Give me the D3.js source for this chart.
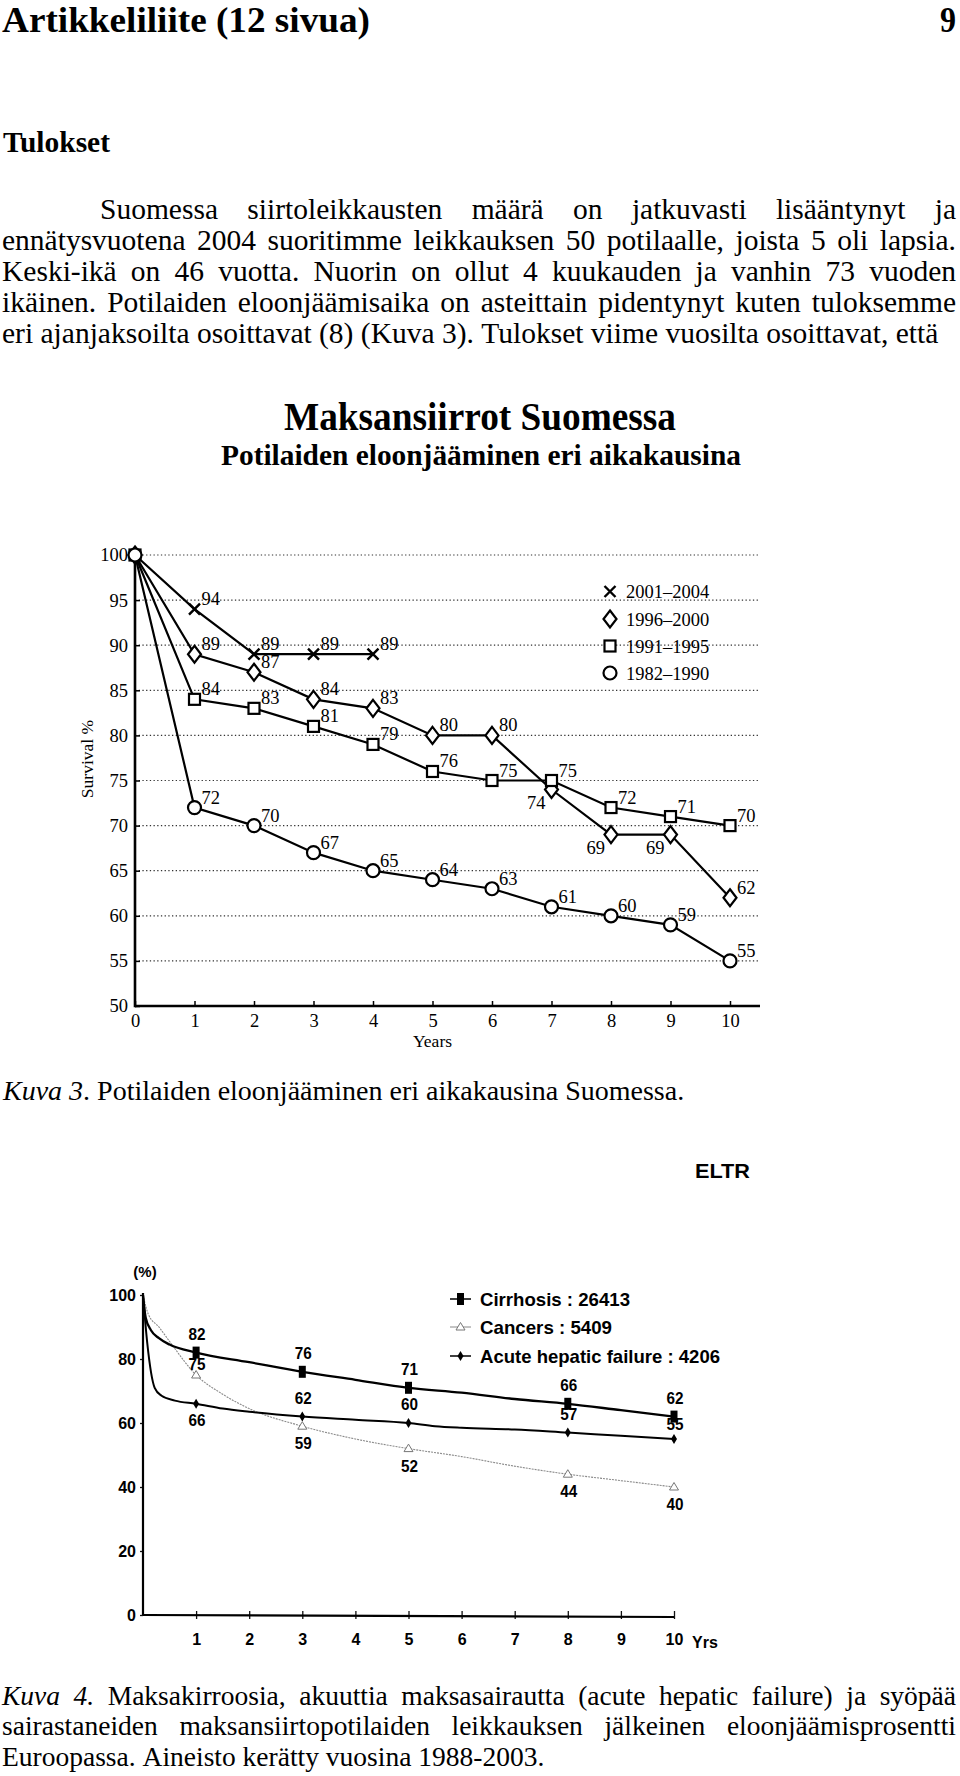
<!DOCTYPE html>
<html><head><meta charset="utf-8">
<script src="https://cdn.jsdelivr.net/npm/d3@7"></script>
<style>body{margin:0;background:#fff}svg{display:block}</style>
</head><body>
<svg id="page" width="960" height="1776"></svg>
<script>
// ---------- page text ----------
const pageHeading = "Artikkeliliite (12 sivua)";
const pageNumber = "9";
const sectionTitle = "Tulokset";
const paragraphLines = [
  "Suomessa siirtoleikkausten määrä on jatkuvasti lisääntynyt ja",
  "ennätysvuotena 2004 suoritimme leikkauksen 50 potilaalle, joista 5 oli lapsia.",
  "Keski-ikä on 46 vuotta. Nuorin on ollut 4 kuukauden ja vanhin 73 vuoden",
  "ikäinen. Potilaiden eloonjäämisaika on asteittain pidentynyt kuten tuloksemme",
  "eri ajanjaksoilta osoittavat (8) (Kuva 3). Tulokset viime vuosilta osoittavat, että"
];
const caption3Label = "Kuva 3";
const caption3Text = ". Potilaiden eloonjääminen eri aikakausina Suomessa.";
const caption4Lines = [
  "_Kuva _4. Maksakirroosia, akuuttia maksasairautta (acute hepatic failure) ja syöpää",
  "sairastaneiden maksansiirtopotilaiden leikkauksen jälkeinen eloonjäämisprosentti",
  "Euroopassa. Aineisto kerätty vuosina 1988-2003."
];

// ---------- chart 1 (Kuva 3) ----------
const chart1Title = "Maksansiirrot Suomessa";
const chart1Subtitle = "Potilaiden eloonjääminen eri aikakausina";
const periods = ["2001–2004", "1996–2000", "1991–1995", "1982–1990"];
const years1 = [0,1,2,3,4,5,6,7,8,9,10];
const surv2001 = [100,94,89,89,89];
const surv1996 = [100,89,87,84,83,80,80,74,69,69,62];
const surv1991 = [100,84,83,81,79,76,75,75,72,71,70];
const surv1982 = [100,72,70,67,65,64,63,61,60,59,55];
const yTicks1 = [50,55,60,65,70,75,80,85,90,95,100];
const xTicks1 = [0,1,2,3,4,5,6,7,8,9,10];
const yLabel1 = "Survival %";
const xLabel1 = "Years";

// ---------- chart 2 (Kuva 4, ELTR) ----------
const eltrTag = "ELTR";
const groups2 = ["Cirrhosis : 26413", "Cancers : 5409", "Acute hepatic failure : 4206"];
const markerYears2 = [1,3,5,8,10];
const cirrhosisValues = [82,76,71,66,62];
const cancersValues = [75,59,52,44,40];
const acuteValues = [66,62,60,57,55];
// curve readings (years, %)
const cirrhosisCurveT = [0,0.05,0.15,0.3,0.5,1,2,3,4,5,6,7,8,9,10];
const cirrhosisCurveV = [100,93,89,86.5,84.5,82,79,76,73.5,71,69.5,67.5,66,64,62];
const cancersCurveT = [0,0.1,0.3,0.5,1,1.5,2,3,4,5,6,7,8,9,10];
const cancersCurveV = [100,94,90,85.5,75,69,64.5,59,55,52,49.5,46.5,44,42,40];
const acuteCurveT = [0,0.08,0.22,0.35,0.6,1,1.5,2,3,4,5,5.5,6,7,8,9,10];
const acuteCurveV = [100,85,71,68.5,67,66,64.5,63.5,62,61,60,59,58.5,58,57,56,55];
const yTicks2 = [0,20,40,60,80,100];
const xTicks2 = [1,2,3,4,5,6,7,8,9,10];
const yUnit2 = "(%)";
const xUnit2 = "Yrs";

// =====================================================
const svg = d3.select("#page");
const SERIF = "'Liberation Serif','Times New Roman',Times,serif";
const SANS = "'Liberation Sans',Arial,Helvetica,sans-serif";

const meas = svg.append("text").attr("font-family", SERIF).attr("x", -1000).attr("y", -1000);
function measure(w, size, italic){
  meas.attr("font-size", size).attr("font-style", italic ? "italic" : "normal").text(w);
  return meas.node().getComputedTextLength();
}
function textLine(line, x0, x1, y, size, justify){
  const toks = line.split(" ").map(w => w.startsWith("_") ? {w:w.slice(1), it:true} : {w, it:false});
  const widths = toks.map(t => measure(t.w, size, t.it));
  const total = d3.sum(widths);
  const gap = justify ? (x1 - x0 - total) / (toks.length - 1) : size * 0.25;
  const t = svg.append("text").attr("y", y).attr("font-family", SERIF).attr("font-size", size).attr("fill", "#000");
  let x = x0;
  toks.forEach((tk, i) => {
    t.append("tspan").attr("x", x).attr("font-style", tk.it ? "italic" : null).text(tk.w);
    x += widths[i] + gap;
  });
}

// ---------- page text ----------
svg.append("text").attr("x", 2).attr("y", 32).attr("font-family", SERIF).attr("font-weight", "bold")
  .attr("font-size", 35).attr("textLength", 368).attr("lengthAdjust", "spacingAndGlyphs").text(pageHeading);
svg.append("text").attr("x", 956).attr("y", 32).attr("text-anchor", "end").attr("font-family", SERIF)
  .attr("font-weight", "bold").attr("font-size", 35).attr("textLength", 16).attr("lengthAdjust", "spacingAndGlyphs").text(pageNumber);
svg.append("text").attr("x", 3).attr("y", 152).attr("font-family", SERIF).attr("font-weight", "bold")
  .attr("font-size", 30).attr("textLength", 107).attr("lengthAdjust", "spacingAndGlyphs").text(sectionTitle);

const paraBase = [219, 250, 281, 312, 343];
paragraphLines.forEach((l, i) => textLine(l, i === 0 ? 100 : 2, 956, paraBase[i], 29.5, i < 4));

// ---------- chart 1 ----------
svg.append("text").attr("x", 480).attr("y", 430).attr("text-anchor", "middle").attr("font-family", SERIF)
  .attr("font-weight", "bold").attr("font-size", 40).attr("textLength", 392).attr("lengthAdjust", "spacingAndGlyphs").text(chart1Title);
svg.append("text").attr("x", 481).attr("y", 465).attr("text-anchor", "middle").attr("font-family", SERIF)
  .attr("font-weight", "bold").attr("font-size", 30).attr("textLength", 520).attr("lengthAdjust", "spacingAndGlyphs").text(chart1Subtitle);

const x1 = d3.scaleLinear().domain([0, 10]).range([135, 730]);
const y1 = d3.scaleLinear().domain([50, 100]).range([1006, 555]);
const g1 = svg.append("g");

// grid
g1.append("g").selectAll("line").data(yTicks1.filter(v => v > 50)).join("line")
  .attr("x1", x1(0)).attr("x2", 759).attr("y1", d => y1(d)).attr("y2", d => y1(d))
  .attr("stroke", "#333").attr("stroke-width", 1.2).attr("stroke-dasharray", "1.3,2.4");

// axes
const ax1 = g1.append("g").attr("transform", `translate(0,${y1(50)})`)
  .call(d3.axisBottom(x1).tickValues(xTicks1).tickSize(-5).tickPadding(8));
const ay1 = g1.append("g").attr("transform", `translate(${x1(0)},0)`)
  .call(d3.axisLeft(y1).tickValues(yTicks1).tickSize(-5).tickPadding(7));
[ax1, ay1].forEach(a => {
  a.select(".domain").remove();
  a.selectAll(".tick line").attr("stroke", "#000").attr("stroke-width", 1.5);
  a.selectAll(".tick text").attr("font-family", SERIF).attr("font-size", 18.5).attr("fill", "#000");
});
g1.append("line").attr("x1", x1(0)).attr("x2", 760).attr("y1", y1(50)).attr("y2", y1(50)).attr("stroke", "#000").attr("stroke-width", 2.6);
g1.append("line").attr("x1", x1(0)).attr("x2", x1(0)).attr("y1", y1(100)).attr("y2", y1(50) + 1.3).attr("stroke", "#000").attr("stroke-width", 2.6);

g1.append("text").attr("x", x1(5)).attr("y", 1047).attr("text-anchor", "middle").attr("font-family", SERIF).attr("font-size", 17.5).text(xLabel1);
g1.append("text").attr("transform", "translate(93,759) rotate(-90)").attr("text-anchor", "middle").attr("font-family", SERIF).attr("font-size", 17.5).text(yLabel1);

const seriesVals = [surv2001, surv1996, surv1991, surv1982];
const markerTypes = ["cross", "diamond", "square", "circle"];
function drawMarker(g, type, cx, cy){
  if (type === "cross") {
    const s = 5.5;
    g.append("path").attr("d", `M${cx-s},${cy-s}L${cx+s},${cy+s}M${cx-s},${cy+s}L${cx+s},${cy-s}`)
      .attr("stroke", "#000").attr("stroke-width", 2.4).attr("fill", "none");
  } else if (type === "diamond") {
    g.append("path").attr("d", `M${cx},${cy-8.5}L${cx+6.5},${cy}L${cx},${cy+8.5}L${cx-6.5},${cy}Z`)
      .attr("stroke", "#000").attr("stroke-width", 2.2).attr("fill", "#fff");
  } else if (type === "square") {
    g.append("rect").attr("x", cx-5.5).attr("y", cy-5.5).attr("width", 11).attr("height", 11)
      .attr("stroke", "#000").attr("stroke-width", 2.2).attr("fill", "#fff");
  } else {
    g.append("circle").attr("cx", cx).attr("cy", cy).attr("r", 6.5)
      .attr("stroke", "#000").attr("stroke-width", 2.2).attr("fill", "#fff");
  }
}
const line1 = d3.line().x((d, i) => x1(years1[i])).y(d => y1(d));
seriesVals.forEach(vals => {
  g1.append("path").attr("d", line1(vals)).attr("fill", "none").attr("stroke", "#000").attr("stroke-width", 2.2);
});
seriesVals.forEach((vals, si) => {
  vals.forEach((v, i) => drawMarker(g1, markerTypes[si], x1(years1[i]), y1(v)));
});
seriesVals.forEach((vals, si) => {
  vals.forEach((v, i) => {
    if (i === 0) return;
    const below = si === 1 && (i === 7 || i === 8 || i === 9);
    g1.append("text")
      .attr("x", x1(years1[i]) + (below ? -6 : 7))
      .attr("y", y1(v) + (below ? 19 : -4))
      .attr("text-anchor", below ? "end" : "start")
      .attr("font-family", SERIF).attr("font-size", 18.5).text(v);
  });
});
// legend
const legY = [591.5, 619, 646, 673];
periods.forEach((p, i) => {
  drawMarker(g1, markerTypes[i], 610, legY[i]);
  g1.append("text").attr("x", 626).attr("y", legY[i] + 6.5).attr("font-family", SERIF).attr("font-size", 18.5).text(p);
});

// caption 3
const c3 = svg.append("text").attr("x", 3).attr("y", 1100).attr("font-family", SERIF).attr("font-size", 28);
c3.append("tspan").attr("font-style", "italic").text(caption3Label);
c3.append("tspan").text(caption3Text);

// ---------- chart 2 ----------
svg.append("text").attr("x", 695).attr("y", 1178).attr("font-family", SANS).attr("font-weight", "bold")
  .attr("font-size", 20).attr("textLength", 55).attr("lengthAdjust", "spacingAndGlyphs").text(eltrTag);

const x2 = d3.scaleLinear().domain([0, 10]).range([143, 674]);
const y2 = d3.scaleLinear().domain([0, 100]).range([1615, 1295]);
const g2 = svg.append("g");

svg.append("text").attr("x", 145).attr("y", 1277).attr("text-anchor", "middle").attr("font-family", SANS)
  .attr("font-weight", "bold").attr("font-size", 15).text(yUnit2);

const ay2 = g2.append("g").attr("transform", `translate(${x2(0)},0)`)
  .call(d3.axisLeft(y2).tickValues(yTicks2).tickSize(3).tickPadding(4));
const ax2 = g2.append("g").attr("transform", `translate(0,${y2(0)})`)
  .call(d3.axisBottom(x2).tickValues(xTicks2).tickSize(4).tickPadding(15));
[ax2, ay2].forEach(a => {
  a.select(".domain").remove();
  a.selectAll(".tick line").attr("stroke", "#111").attr("stroke-width", 1.3);
  a.selectAll(".tick text").attr("font-family", SANS).attr("font-weight", "bold").attr("font-size", 16).attr("fill", "#000");
});
ax2.selectAll(".tick line").attr("y1", -4);
g2.append("line").attr("x1", x2(0)).attr("x2", x2(0)).attr("y1", y2(100) - 2).attr("y2", y2(0)).attr("stroke", "#000").attr("stroke-width", 2.2);
g2.append("line").attr("x1", x2(0)).attr("x2", x2(10)).attr("y1", y2(0)).attr("y2", y2(0) + 2).attr("stroke", "#000").attr("stroke-width", 2.2);
g2.append("text").attr("x", 692).attr("y", y2(0) + 33).attr("font-family", SANS).attr("font-weight", "bold").attr("font-size", 16).text(xUnit2);

const line2 = d3.line().curve(d3.curveMonotoneX);
function curvePts(ts, vs){ return ts.map((t, i) => [x2(t), y2(vs[i])]); }
g2.append("path").attr("d", line2(curvePts(cancersCurveT, cancersCurveV))).attr("fill", "none")
  .attr("stroke", "#8a8a8a").attr("stroke-width", 1.1).attr("stroke-dasharray", "2,1");
g2.append("path").attr("d", line2(curvePts(acuteCurveT, acuteCurveV))).attr("fill", "none")
  .attr("stroke", "#000").attr("stroke-width", 2);
g2.append("path").attr("d", line2(curvePts(cirrhosisCurveT, cirrhosisCurveV))).attr("fill", "none")
  .attr("stroke", "#000").attr("stroke-width", 2.3);

function marker2(type, cx, cy){
  if (type === 0) {
    g2.append("rect").attr("x", cx - 3.5).attr("y", cy - 6).attr("width", 7).attr("height", 12).attr("fill", "#000");
  } else if (type === 1) {
    g2.append("path").attr("d", `M${cx},${cy-4.5}L${cx+4.5},${cy+3}L${cx-4.5},${cy+3}Z`)
      .attr("fill", "#fff").attr("stroke", "#777").attr("stroke-width", 1);
  } else {
    g2.append("path").attr("d", `M${cx},${cy-5}L${cx+3},${cy}L${cx},${cy+5}L${cx-3},${cy}Z`).attr("fill", "#000");
  }
}
const vals2 = [cirrhosisValues, cancersValues, acuteValues];
vals2.forEach((vals, si) => vals.forEach((v, i) => marker2(si, x2(markerYears2[i]), y2(v))));
vals2.forEach((vals, si) => vals.forEach((v, i) => {
  let dy = -13;
  if (si === 1) dy = i === 0 ? -5 : 23;
  if (si === 2) dy = i === 0 ? 22 : (i === 4 ? -9 : -13);
  g2.append("text").attr("x", x2(markerYears2[i]) + 1).attr("y", y2(v) + dy).attr("text-anchor", "middle")
    .attr("font-family", SANS).attr("font-weight", "bold").attr("font-size", 16)
    .attr("textLength", 17).attr("lengthAdjust", "spacingAndGlyphs").text(v);
}));
// legend 2
const leg2Y = [1299, 1327, 1356];
const leg2W = [150, 132, 240];
groups2.forEach((gname, i) => {
  g2.append("line").attr("x1", 450).attr("x2", 471).attr("y1", leg2Y[i]).attr("y2", leg2Y[i])
    .attr("stroke", i === 1 ? "#888" : "#000").attr("stroke-width", i === 1 ? 1 : 1.5);
  marker2(i, 460.5, leg2Y[i]);
  g2.append("text").attr("x", 480).attr("y", leg2Y[i] + 7).attr("font-family", SANS).attr("font-weight", "bold")
    .attr("font-size", 18.5).attr("textLength", leg2W[i]).attr("lengthAdjust", "spacingAndGlyphs").text(gname);
});

// caption 4
const c4Base = [1705, 1735, 1766];
caption4Lines.forEach((l, i) => textLine(l, 2, 956, c4Base[i], 27.5, i < 2));
meas.remove();
</script>
</body></html>
